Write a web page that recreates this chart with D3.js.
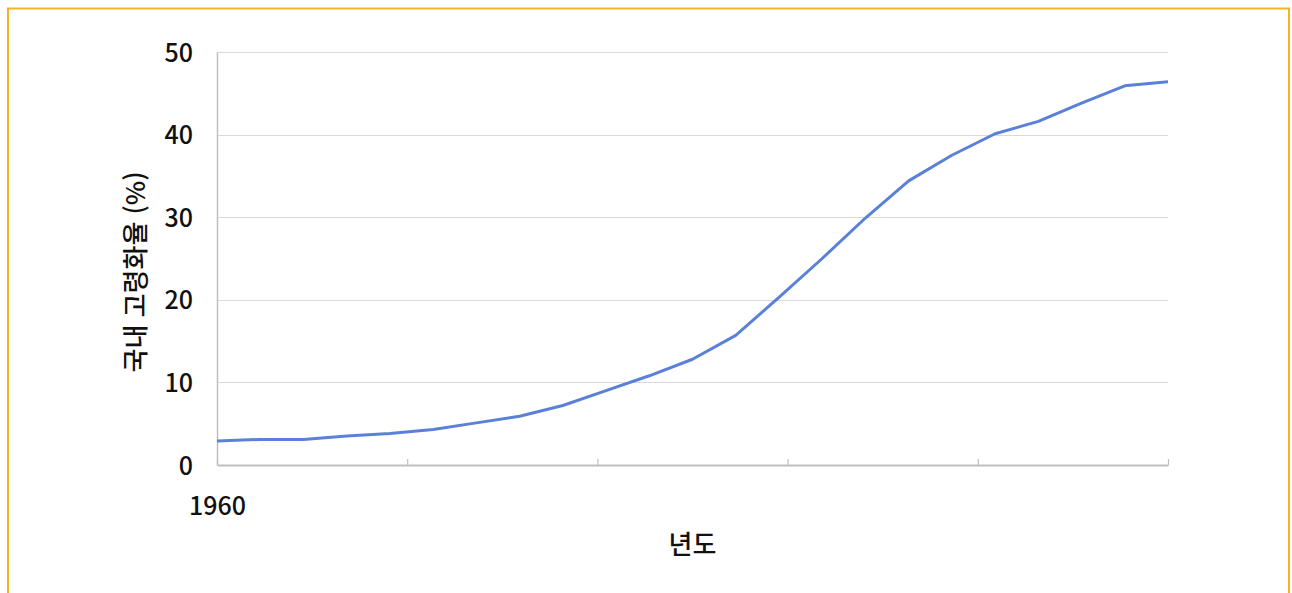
<!DOCTYPE html>
<html lang="ko">
<head>
<meta charset="utf-8">
<script src="https://cdn.jsdelivr.net/npm/d3@7"></script>
<style>
  html, body { margin: 0; padding: 0; background: #fff; }
  svg { display: block; }
  svg text { font-family: "Noto Sans CJK KR", "Noto Sans", sans-serif; }
</style>
</head>
<body>
<svg id="chart" width="1292" height="593"></svg>
<script>
// Share of population aged 65+ in Korea, every 5 years
const years = [1960, 1965, 1970, 1975, 1980, 1985, 1990, 1995, 2000, 2005, 2010, 2015,
               2020, 2025, 2030, 2035, 2040, 2045, 2050, 2055, 2060, 2065, 2070];
const agingRate = [2.9, 3.1, 3.1, 3.5, 3.8, 4.3, 5.1, 5.9, 7.2, 9.0, 10.8, 12.8,
                   15.7, 20.3, 25.0, 29.9, 34.4, 37.5, 40.1, 41.6, 43.8, 45.9, 46.4];
const yTicks = [0, 10, 20, 30, 40, 50];
const xTickYears = [1960, 1982, 2004, 2026, 2048, 2070];
const xTickLabels = ["1960", "", "", "", "", ""];
const yTitle = "국내 고령화율 (%)";
const xTitle = "년도";

const FONT = '"Noto Sans CJK KR", "Noto Sans", sans-serif';
const svg = d3.select("#chart");
const W = 1292, H = 593;
const m = { left: 217, right: 124, top: 52, bottom: 128 };

// outer frame
svg.append("rect")
  .attr("x", 8).attr("y", 8.5)
  .attr("width", 1281).attr("height", 600)
  .attr("fill", "none").attr("stroke", "#f5b326").attr("stroke-width", 2);

const x = d3.scaleLinear().domain([1960, 2070]).range([m.left, W - m.right]);
const y = d3.scaleLinear().domain([0, 50]).range([H - m.bottom, m.top]);

// horizontal gridlines
svg.append("g")
  .selectAll("line")
  .data(yTicks.filter(d => d > 0))
  .join("line")
  .attr("x1", m.left).attr("x2", W - m.right)
  .attr("y1", d => Math.round(y(d)) + 0.5).attr("y2", d => Math.round(y(d)) + 0.5)
  .attr("stroke", "#d9d9d9").attr("stroke-width", 1.2);

// y axis
const yAxis = svg.append("g")
  .attr("transform", `translate(${m.left},0)`)
  .attr("font-family", FONT)
  .call(d3.axisLeft(y).tickValues(yTicks).tickSize(0).tickPadding(24));
yAxis.attr("font-family", FONT);
yAxis.select(".domain").attr("stroke", "#bfbfbf").attr("stroke-width", 1.5);
yAxis.selectAll("text").attr("font-size", 25).attr("font-weight", 500)
  .attr("fill", "#111").attr("dy", "0.36em");

// x axis with inward ticks
const xAxis = svg.append("g")
  .attr("transform", `translate(0,${y(0)})`)
  .call(d3.axisBottom(x).tickValues(xTickYears).tickSize(-6).tickSizeOuter(0)
        .tickFormat((d, i) => xTickLabels[i]));
xAxis.attr("font-family", FONT);
xAxis.select(".domain").attr("stroke", "#bfbfbf").attr("stroke-width", 2);
xAxis.selectAll(".tick line").attr("stroke", "#bfbfbf").attr("stroke-width", 1.2);
xAxis.selectAll("text").attr("font-size", 25).attr("font-weight", 500)
  .attr("fill", "#111").attr("y", 50).attr("dy", 0);

// series line
svg.append("path")
  .datum(years.map((yr, i) => [yr, agingRate[i]]))
  .attr("fill", "none")
  .attr("stroke", "#5b80d8")
  .attr("stroke-width", 3)
  .attr("stroke-linejoin", "round")
  .attr("d", d3.line().x(d => x(d[0])).y(d => y(d[1])));

// axis titles
svg.append("text")
  .attr("transform", `translate(145,272) rotate(-90)`)
  .attr("text-anchor", "middle")
  .attr("font-size", 26).attr("font-weight", 500).attr("fill", "#111")
  .text(yTitle);

svg.append("text")
  .attr("x", 692.5).attr("y", 554)
  .attr("text-anchor", "middle")
  .attr("font-size", 26).attr("font-weight", 500).attr("fill", "#111")
  .text(xTitle);
</script>
</body>
</html>
